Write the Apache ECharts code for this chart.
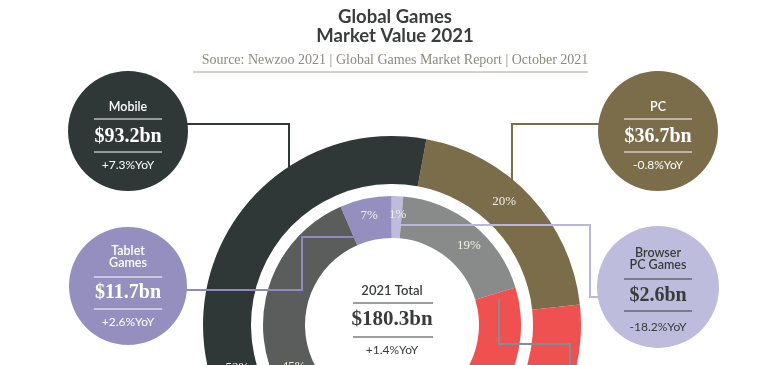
<!DOCTYPE html>
<html>
<head>
<meta charset="utf-8">
<script src="https://cdn.jsdelivr.net/npm/echarts@6/dist/echarts.min.js"></script>
<style>
html,body{margin:0;padding:0;background:#fff;}
#chart{width:772px;height:365px;}
</style>
</head>
<body>
<div id="chart"></div>
<script>
// ---- data ----
const outerNames = ['PC', 'Console', 'Mobile'];
const outerValues = [36.7, 50.4, 93.2];
const outerLabels = ['20%', '28%', '52%'];

const innerNames = ['Tablet Games', 'Browser PC Games', 'Boxed/Downloaded PC', 'Console', 'Smartphone'];
const innerValues = [11.7, 2.6, 34.1, 50.4, 81.5];
const innerLabels = ['7%', '1%', '19%', '28%', '45%'];

const calloutTitles = ['Mobile', 'PC', 'Tablet\nGames', 'Browser\nPC Games'];
const calloutValues = ['$93.2bn', '$36.7bn', '$11.7bn', '$2.6bn'];
const calloutYoY = ['+7.3%YoY', '-0.8%YoY', '+2.6%YoY', '-18.2%YoY'];

const totalTitle = '2021 Total';
const totalValue = '$180.3bn';
const totalYoY = '+1.4%YoY';

// ---- styles ----
const outerColors = ['#7b6c4a', '#ef5150', '#2f3836'];
const innerColors = ['#958fbf', '#bdbcdc', '#898b8b', '#ef5150', '#5a5d5c'];
const outerLabelShift = [[-11, -9], [0, 0], [12, 64]];
const innerLabelShift = [[0, -1], [1, 0], [7, 7], [0, 0], [9, 13]];

const CX = 392, CY = 325;
const SANS = 'Lato', SERIF = 'Liberation Serif';

function txt(x, y, text, size, weight, family, color, lh) {
  return {type: 'text', x: x, y: y, z: 110,
    style: {text: text, fontSize: size, fontWeight: weight, fontFamily: family, fill: color,
      align: 'center', verticalAlign: 'middle', textAlign: 'center', textVerticalAlign: 'middle',
      lineHeight: lh || size + 1}};
}
function hline(x1, x2, y, color) {
  return {type: 'line', z: 110, shape: {x1: x1, y1: y, x2: x2, y2: y}, style: {stroke: color, lineWidth: 1}};
}
function poly(points, color) {
  return {type: 'polyline', z: 100, shape: {points: points}, style: {stroke: color, lineWidth: 2, fill: null}};
}

// callout layout: [cx, cy, r, fill, textColor, titleY, line1Y, valueY, line2Y, yoyY]
const calloutLayout = [
  [128, 131, 60, '#2f3836', '#ffffff', 107, 119, 137, 152, 165],
  [658, 131, 60, '#7b6c4a', '#ffffff', 107, 119, 137, 152, 165],
  [128, 286, 59, '#958fbf', '#ffffff', 257, 277, 293, 309, 322],
  [658, 287, 61, '#bdbcdc', '#3a3c3c', 259, 279, 296, 311, 327]
];

const graphics = [];
// connectors
graphics.push(poly([[186, 124], [289, 124], [289, 167]], '#2f3836'));
graphics.push(poly([[600, 124], [512, 124], [512, 180]], '#7b6c4a'));
graphics.push(poly([[186, 290], [302, 290], [302, 237], [358, 237]], '#8f89bd'));
graphics.push(poly([[600, 297], [590, 297], [590, 225], [401, 225]], '#b9b7da'));
graphics.push(poly([[499, 299], [499, 344], [570, 344], [570, 370]], '#8a8b8e'));

calloutLayout.forEach(function (c, i) {
  graphics.push({type: 'circle', z: 105, shape: {cx: c[0], cy: c[1], r: c[2]}, style: {fill: c[3]}});
  graphics.push(txt(c[0], c[5], calloutTitles[i], 12.5, 600, SANS, c[4], 12));
  graphics.push(hline(c[0] - 34, c[0] + 34, c[6], c[4]));
  graphics.push(txt(c[0], c[7], calloutValues[i], 20, 700, SERIF, c[4]));
  graphics.push(hline(c[0] - 34, c[0] + 34, c[8], c[4]));
  graphics.push(txt(c[0], c[9], calloutYoY[i], 12, 400, SANS, c[4]));
});

// centre
graphics.push(txt(CX, 291, totalTitle, 13, 600, SANS, '#3a3c3c'));
graphics.push(hline(353, 433, 303, '#3a3c3c'));
graphics.push(txt(CX, 320, totalValue, 21, 700, SERIF, '#3a3c3c'));
graphics.push(hline(353, 433, 337, '#3a3c3c'));
graphics.push(txt(CX, 350, totalYoY, 12, 400, SANS, '#3a3c3c'));
// rule under source
graphics.push({type: 'line', z: 110, shape: {x1: 193, y1: 72, x2: 588, y2: 72}, style: {stroke: '#a8a38f', lineWidth: 1}});

const labelStyle = {show: true, position: 'inside', fontFamily: SERIF, fontSize: 13, color: '#f3efe6'};

const chart = echarts.init(document.getElementById('chart'), null, {renderer: 'canvas'});
chart.setOption({
  animation: false,
  backgroundColor: '#ffffff',
  title: {
    text: 'Global Games\nMarket Value 2021',
    subtext: 'Source: Newzoo 2021 | Global Games Market Report | October 2021',
    left: 390, top: 3, textAlign: 'center', itemGap: 6,
    textStyle: {fontFamily: SANS, fontWeight: 700, fontSize: 18.5, color: '#3a3d3c', lineHeight: 19},
    subtextStyle: {fontFamily: SERIF, fontSize: 14, color: '#8c8a7c', lineHeight: 16}
  },
  graphic: {elements: graphics},
  series: [
    {
      type: 'pie', name: 'Segments', center: [CX, CY], radius: [141, 189],
      startAngle: 79.5, clockwise: true, avoidLabelOverlap: false, silent: true,
      label: Object.assign({}, labelStyle, {formatter: function (p) { return outerLabels[p.dataIndex]; }}),
      labelLine: {show: false},
      labelLayout: function (p) { const s = outerLabelShift[p.dataIndex]; return {dx: s[0], dy: s[1]}; },
      data: outerNames.map(function (n, i) { return {name: n, value: outerValues[i], itemStyle: {color: outerColors[i]}}; })
    },
    {
      type: 'pie', name: 'Sub-segments', center: [CX, CY], radius: [87, 129],
      startAngle: 113.5, clockwise: true, avoidLabelOverlap: false, silent: true,
      label: Object.assign({}, labelStyle, {formatter: function (p) { return innerLabels[p.dataIndex]; }}),
      labelLine: {show: false},
      labelLayout: function (p) { const s = innerLabelShift[p.dataIndex]; return {dx: s[0], dy: s[1]}; },
      data: innerNames.map(function (n, i) { return {name: n, value: innerValues[i], itemStyle: {color: innerColors[i]}}; })
    }
  ]
});
</script>
</body>
</html>
